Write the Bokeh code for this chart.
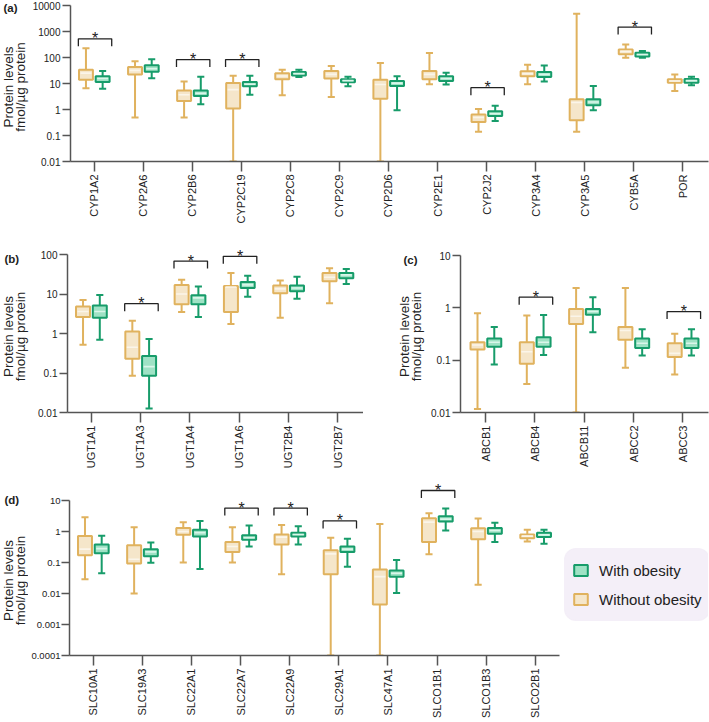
import math
from bokeh.plotting import figure
from bokeh.models import (Range1d, FixedTicker, CustomJSTickFormatter,
                          Legend, LegendItem, ColumnDataSource)
from bokeh.layouts import column, row
from bokeh.embed import file_html
from bokeh.resources import INLINE
from bokeh.core.properties import value

# ---------------- data (min, q1, median, q3, max) ----------------
cats_a = ["CYP1A2", "CYP2A6", "CYP2B6", "CYP2C19", "CYP2C8", "CYP2C9", "CYP2D6",
          "CYP2E1", "CYP2J2", "CYP3A4", "CYP3A5", "CYB5A", "POR"]
without_a = [
    [6.5, 14, 25, 34, 225], [0.49, 22, 32, 43, 72], [0.49, 2.1, 3.7, 5.4, 12],
    [0.01, 1.1, 5.8, 10.5, 20], [3.5, 14.5, 19.5, 25, 34], [3.0, 15.5, 22.5, 30, 47],
    [0.01, 2.6, 9.1, 14, 62], [9.3, 14.5, 22.5, 30, 148], [0.14, 0.33, 0.49, 0.64, 1.05],
    [9.3, 19, 24, 29.5, 53], [0.14, 0.39, 1.85, 2.5, 4800], [98, 132, 172, 204, 316],
    [5.1, 10.8, 12.5, 14.5, 22]]
with_a = [
    [6.3, 11.5, 15.5, 19, 30], [16, 28, 37, 50, 85], [1.6, 3.3, 4.2, 5.4, 18],
    [3.7, 7.8, 9.4, 11.5, 20], [17.8, 20.5, 24, 27.5, 34], [7.8, 11.2, 12.9, 14.5, 18],
    [0.93, 8.1, 10.3, 12.5, 19], [9.1, 12.5, 15.5, 19, 26], [0.36, 0.56, 0.69, 0.85, 1.4],
    [12, 17.8, 22.5, 27.5, 49], [0.93, 1.45, 1.95, 2.5, 8.1], [97, 110, 131, 152, 178],
    [8.5, 10.8, 12.9, 14.8, 18]]
sig_a = ["CYP1A2", "CYP2B6", "CYP2C19", "CYP2J2", "CYB5A"]
sig_a_level = [525, 83, 83, 6.9, 1480]

cats_b = ["UGT1A1", "UGT1A3", "UGT1A4", "UGT1A6", "UGT2B4", "UGT2B7"]
without_b = [
    [0.52, 2.6, 3.6, 4.8, 7], [0.085, 0.23, 0.45, 1.12, 2.1], [3.5, 5.5, 10, 17, 23],
    [1.75, 3.5, 15, 16, 34], [2.5, 10.5, 13.5, 16.4, 22], [5.8, 21, 26.5, 34, 45]]
with_b = [
    [0.69, 2.5, 3.6, 5.1, 9.5], [0.0126, 0.085, 0.145, 0.27, 0.73], [2.6, 5.5, 8, 9.3, 15.5],
    [8.5, 14.2, 17, 20, 29], [7.6, 11.7, 14.2, 16.4, 27.5], [18, 25, 30.5, 34, 43]]
sig_b = ["UGT1A3", "UGT1A4", "UGT1A6"]
sig_b_level = [5.7, 68, 90]

cats_c = ["ABCB1", "ABCB4", "ABCB11", "ABCC2", "ABCC3"]
without_c = [
    [0.0117, 0.16, 0.195, 0.22, 0.79], [0.035, 0.085, 0.145, 0.22, 0.71],
    [0.01, 0.49, 0.69, 0.95, 2.4], [0.072, 0.245, 0.37, 0.43, 2.4],
    [0.053, 0.115, 0.135, 0.21, 0.32]]
with_c = [
    [0.083, 0.18, 0.22, 0.26, 0.43], [0.126, 0.18, 0.22, 0.275, 0.73],
    [0.34, 0.74, 0.85, 0.95, 1.6], [0.123, 0.17, 0.21, 0.26, 0.39],
    [0.123, 0.17, 0.21, 0.26, 0.39]]
sig_c = ["ABCB4", "ABCC3"]
sig_c_level = [1.6, 0.85]

cats_d = ["SLC10A1", "SLC19A3", "SLC22A1", "SLC22A7", "SLC22A9", "SLC29A1",
          "SLC47A1", "SLCO1B1", "SLCO1B3", "SLCO2B1"]
without_d = [
    [0.029, 0.17, 0.27, 0.71, 2.9], [0.01, 0.093, 0.128, 0.36, 1.37],
    [0.1, 0.78, 1.0, 1.3, 2.0], [0.1, 0.22, 0.33, 0.46, 1.37],
    [0.042, 0.38, 0.66, 0.8, 1.63], [0.0001, 0.042, 0.19, 0.25, 0.63],
    [0.0001, 0.0044, 0.035, 0.06, 1.75], [0.185, 0.46, 2.0, 2.7, 3.9],
    [0.019, 0.56, 1.0, 1.28, 2.65], [0.48, 0.61, 0.71, 0.8, 1.13]]
with_d = [
    [0.045, 0.2, 0.28, 0.38, 0.73], [0.098, 0.16, 0.22, 0.27, 0.44],
    [0.062, 0.69, 0.91, 1.13, 2.2], [0.33, 0.54, 0.63, 0.75, 1.55],
    [0.38, 0.69, 0.8, 0.91, 1.48], [0.073, 0.22, 0.27, 0.33, 0.58],
    [0.0104, 0.035, 0.045, 0.055, 0.12], [1.08, 2.1, 2.5, 3.1, 5.5],
    [0.46, 0.84, 1.08, 1.3, 1.9], [0.40, 0.66, 0.78, 0.91, 1.13]]
sig_d = ["SLC22A7", "SLC22A9", "SLC29A1", "SLCO1B1"]
sig_d_level = [5.7, 5.7, 2.2, 21]

ylabel_lines = ["Protein levels", "fmol/\u00b5g protein"]
legend_labels = ["With obesity", "Without obesity"]

# ---------------- style ----------------
FONT = "Liberation Sans"
GOLD, GOLD_FILL, GOLD_MED = "#E0B25E", "#F5E6CA", "#FBF5E9"
GREEN, GREEN_FILL, GREEN_MED = "#179C6A", "#9FE2C5", "#DAF6EA"
AXIS = "#555555"
TXT = "#222222"
LEG_BG = "#F4EFF8"

OFF_WO, OFF_W = -0.165, 0.175
HW, CAP = 0.142, 0.072
PPU = 49.3  # px per category

fmt = CustomJSTickFormatter(code="""
return tick >= 1 ? tick.toFixed(0) : String(parseFloat(tick.toPrecision(1)));
""")


def add_group(p, rows, offset, line, fill, med):
    n = len(rows)
    xs = [i + offset for i in range(n)]
    src = ColumnDataSource(dict(
        x=xs, lo=[r[0] for r in rows], q1=[r[1] for r in rows],
        md=[r[2] for r in rows], q3=[r[3] for r in rows], hi=[r[4] for r in rows],
        cl=[x - CAP for x in xs], cr=[x + CAP for x in xs],
        bl=[x - HW for x in xs], br=[x + HW for x in xs],
        ml=[x - HW + 0.03 for x in xs], mr=[x + HW - 0.03 for x in xs]))
    p.segment(x0="x", y0="lo", x1="x", y1="hi", source=src, line_color=line, line_width=2)
    p.segment(x0="cl", y0="lo", x1="cr", y1="lo", source=src, line_color=line, line_width=2)
    p.segment(x0="cl", y0="hi", x1="cr", y1="hi", source=src, line_color=line, line_width=2)
    r = p.quad(left="bl", right="br", bottom="q1", top="q3", source=src,
               fill_color=fill, line_color=line, line_width=2)
    p.segment(x0="ml", y0="md", x1="mr", y1="md", source=src, line_color=med, line_width=1.6)
    return r


def make_panel(cats, wo, w, sig, sig_lv, ybot, ytop, fig_w, fig_h, left,
               xr0, x_axis_end, ext_px, axis_px, right=1, yfont="10px", ystand=2):
    frame_w = fig_w - left - right
    frame_h = ext_px + axis_px
    ppd = axis_px / (ytop - ybot)
    y_end = 10 ** (ytop + ext_px / ppd)
    xr1 = xr0 + frame_w / PPU

    p = figure(width=fig_w, height=fig_h, x_range=Range1d(xr0, xr1),
               y_range=Range1d(10 ** ybot, y_end), y_axis_type="log",
               output_backend="svg", toolbar_location=None,
               min_border_left=left, min_border_right=right, min_border_top=0,
               min_border_bottom=fig_h - frame_h)
    p.grid.visible = False
    p.outline_line_color = None
    p.background_fill_color = "white"
    p.border_fill_color = "white"

    ya = p.yaxis[0]
    ya.ticker = FixedTicker(ticks=[10 ** e for e in range(ybot, ytop + 1)], minor_ticks=[])
    ya.formatter = fmt
    ya.bounds = (10 ** ybot, 10 ** ytop)
    xa = p.xaxis[0]
    xa.ticker = FixedTicker(ticks=list(range(len(cats))), minor_ticks=[])
    xa.major_label_overrides = {i: c for i, c in enumerate(cats)}
    xa.major_label_orientation = math.pi / 2
    xa.bounds = (xr0, x_axis_end)
    for ax, tick_out, fs, so in ((ya, 8, yfont, ystand), (xa, 10, "11px", 3)):
        ax.axis_line_color = AXIS
        ax.axis_line_width = 1.5
        ax.major_tick_line_color = AXIS
        ax.major_tick_line_width = 1.5
        ax.major_tick_out = tick_out
        ax.major_tick_in = 0
        ax.minor_tick_out = 0
        ax.minor_tick_in = 0
        ax.major_label_standoff = so
        ax.major_label_text_font = FONT
        ax.major_label_text_font_size = fs
        ax.major_label_text_color = TXT

    r_wo = add_group(p, wo, OFF_WO, GOLD, GOLD_FILL, GOLD_MED)
    r_w = add_group(p, w, OFF_W, GREEN, GREEN_FILL, GREEN_MED)

    drop = 10 ** (7.5 / ppd)
    bx, by, sx, sy = [], [], [], []
    for c, lv in zip(sig, sig_lv):
        i = cats.index(c)
        bx.append([i - 0.32, i - 0.32, i + 0.36, i + 0.36])
        by.append([lv / drop, lv, lv, lv / drop])
        sx.append(i + 0.02)
        sy.append(lv)
    p.multi_line(xs=bx, ys=by, line_color=TXT, line_width=1.3)
    p.text(x=sx, y=sy, text=["*"] * len(sx), text_align="center",
           text_baseline="alphabetic", text_font=value(FONT),
           text_font_size="16px", text_color=TXT)
    return p, r_w, r_wo


def make_label_fig(w, h, frame_h, tag, tag_x, tag_top, line_xs, line_top):
    """Texts placed by their distance (px) below the top of the row."""
    q = figure(width=w, height=h, x_range=Range1d(0, w), y_range=Range1d(0, frame_h),
               output_backend="svg", toolbar_location=None,
               min_border_left=0, min_border_right=0, min_border_top=0,
               min_border_bottom=h - frame_h,
               x_axis_location=None, y_axis_location=None)
    q.grid.visible = False
    q.outline_line_color = None
    q.text(x=line_xs, y=[frame_h - line_top] * len(line_xs), text=ylabel_lines,
           angle=math.pi / 2, text_align="center", text_baseline="middle",
           text_font=value(FONT), text_font_size="13.5px", text_color=TXT)
    q.text(x=[tag_x], y=[frame_h - tag_top], text=[tag], text_align="left",
           text_baseline="middle", text_font=value(FONT), text_font_style="bold",
           text_font_size="11.5px", text_color=TXT)
    return q


# row 1 (page y 0..235)
lab_a = make_label_fig(29, 235, 161, "(a)", 3, 7, [8.2, 19.7], 86.5)
fa, _, _ = make_panel(cats_a, without_a, with_a, sig_a, sig_a_level, -2, 4,
                      680, 235, 38, -0.48, 12.52, 5, 156)
# row 2 (page y 235..474)
lab_b = make_label_fig(34, 239, 177, "(b)", 4, 23, [8.2, 19.7], 101)
fb, _, _ = make_panel(cats_b, without_b, with_b, sig_b, sig_b_level, -2, 2,
                      329, 239, 33, -0.48, 5.52, 19, 158, right=0)
lab_c = make_label_fig(65, 239, 177, "(c)", 40, 24, [41.0, 52.5], 101)
fc, _, _ = make_panel(cats_c, without_c, with_c, sig_c, sig_c_level, -2, 1,
                      281, 239, 32, -0.51, 4.52, 20, 157)
# row 3 (page y 474..722)
lab_d = make_label_fig(28, 248, 181, "(d)", 4, 25, [8.2, 19.5], 106)
fd, rd_w, rd_wo = make_panel(cats_d, without_d, with_d, sig_d, sig_d_level, -4, 1,
                             681, 248, 39, -0.48, 9.5, 26, 155, yfont="9.5px", ystand=1)

leg = Legend(items=[LegendItem(label=legend_labels[0], renderers=[rd_w]),
                    LegendItem(label=legend_labels[1], renderers=[rd_wo])],
             location=(495, 34), padding=7, spacing=1, label_height=28,
             glyph_width=17, glyph_height=14, label_standoff=10, margin=0,
             background_fill_color=LEG_BG, background_fill_alpha=1.0,
             border_line_color=LEG_BG, border_line_width=1,
             label_text_font=FONT, label_text_font_size="15px",
             label_text_color=TXT)
if "border_radius" in Legend.properties():
    leg.border_radius = 12
fd.add_layout(leg)

layout = column(row(lab_a, fa), row(lab_b, fb, lab_c, fc), row(lab_d, fd))
open("out.html", "w").write(file_html(layout, INLINE))
